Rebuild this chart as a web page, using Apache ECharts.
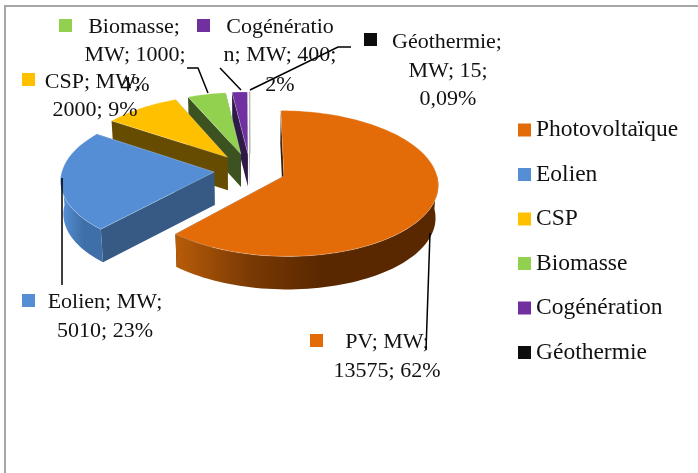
<!DOCTYPE html>
<html>
<head>
<meta charset="utf-8">
<style>html,body{margin:0;padding:0;background:#fff}#chart{width:698px;height:473px}</style>
<script src="https://cdn.jsdelivr.net/npm/echarts@6/dist/echarts.min.js"></script>
</head>
<body>
<div id="chart"></div>
<script>
const categories = ["Photovoltaïque", "Eolien", "CSP", "Biomasse", "Cogénération", "Géothermie"];
const values = [13575, 5010, 2000, 1000, 400, 15];
const labelLines = [
  ["PV; MW;", "13575; 62%"],
  ["Eolien; MW;", "5010; 23%"],
  ["CSP; MW;", "2000; 9%"],
  ["Biomasse;", "MW; 1000;", "4%"],
  ["Cogénératio", "n; MW; 400;", "2%"],
  ["Géothermie;", "MW; 15;", "0,09%"],
];
const colors = ["#E36C09", "#558ED5", "#FFC000", "#92D050", "#7030A0", "#0D0D0D"];
const cutColors = ["#3a1c02", "#375a85", "#664c00", "#3c5321", "#2e1a47", "#050505"];
const wallStops = [
  ["#b85c08", "#7a3a04", "#5a2800"],
  ["#5a93da", "#4a7fbd", "#3f6fa8"],
  ["#664c00", "#664c00", "#664c00"],
  ["#3c5321", "#3c5321", "#3c5321"],
  ["#2e1a47", "#2e1a47", "#2e1a47"],
  ["#050505", "#050505", "#050505"],
];

// fausse 3D : camembert eclate projete avec perspective
const cx = 250, cy = 170, R = 152, explode = 36, squash = 0.467, persp = 0.1, depth = 33, shrink = 0.985;
const total = values.reduce((a, b) => a + b, 0);
const rad = (d) => (d * Math.PI) / 180;

function project(wx, wy, low) {
  const p = 1 / (1 + (persp * wy) / R);
  let x = cx + wx * p;
  let y = cy - squash * wy * p;
  if (low) {
    x = cx + (x - cx) * shrink;
    y += depth;
  }
  return [x, y];
}

function slicePoint(mid, angle, r, low) {
  const wx = explode * Math.sin(rad(mid)) + r * Math.sin(rad(angle));
  const wy = explode * Math.cos(rad(mid)) + r * Math.cos(rad(angle));
  return project(wx, wy, low);
}

function arc(mid, from, to, low) {
  const pts = [];
  const n = Math.max(2, Math.ceil(Math.abs(to - from) / 2));
  for (let i = 0; i <= n; i++) {
    pts.push(slicePoint(mid, from + ((to - from) * i) / n, R, low));
  }
  return pts;
}

function renderSlice(index) {
  return function (params, api) {
    const before = values.slice(0, index).reduce((a, b) => a + b, 0);
    const a0 = (before / total) * 360;
    const a1 = a0 + (api.value(0) / total) * 360;
    const mid = (a0 + a1) / 2;
    const apex = slicePoint(mid, 0, 0, false);
    const apexLow = slicePoint(mid, 0, 0, true);
    const children = [];

    [a0, a1].forEach((a) => {
      children.push({
        type: "polygon",
        shape: { points: [apex, slicePoint(mid, a, R, false), slicePoint(mid, a, R, true), apexLow] },
        style: { fill: cutColors[index] },
      });
    });

    const w0 = Math.max(a0, 90), w1 = Math.min(a1, 270);
    if (w1 > w0) {
      const stops = wallStops[index];
      children.push({
        type: "polygon",
        shape: { points: arc(mid, w0, w1, false).concat(arc(mid, w1, w0, true)) },
        style: {
          fill: {
            type: "linear", x: 1, y: 0, x2: 0, y2: 0,
            colorStops: [
              { offset: 0, color: stops[2] },
              { offset: 0.45, color: stops[2] },
              { offset: 0.72, color: stops[1] },
              { offset: 1, color: stops[0] },
            ],
          },
        },
      });
    }

    children.push({
      type: "polygon",
      shape: { points: [apex].concat(arc(mid, a0, a1, false)) },
      style: {
        fill: colors[index],
        stroke: index === 5 ? "rgba(190,190,190,0.9)" : "rgba(255,255,255,0.25)",
        lineWidth: 1,
      },
    });
    return { type: "group", children: children };
  };
}

// etiquettes : carre de couleur + lignes de texte centrees
const labelFont = '22px "Liberation Serif", serif';
const keyBoxes = [[310, 334], [22, 294], [22, 73], [59, 19], [197, 19], [364, 33]];
const linePos = [
  [[387, 342], [387, 371]],
  [[105, 302], [105, 331]],
  [[93, 82], [95, 110]],
  [[134, 27], [135, 55], [135, 85]],
  [[280, 27], [280, 55], [280, 85]],
  [[447, 42], [448, 71], [448, 99]],
];
const leaders = [
  [[430, 233], [426, 350]],
  [[62, 178], [62, 285]],
  [[187, 68], [198, 68], [208, 93]],
  [[220, 68], [241, 90]],
  [[250, 90], [338, 47], [351, 47]],
];

const graphics = [
  {
    type: "polyline",
    shape: { points: [[5, 473], [5, 6], [698, 6]] },
    style: { stroke: "#a6a6a6", lineWidth: 2, fill: null },
    z: 1,
  },
];
leaders.forEach((pts) => {
  graphics.push({
    type: "polyline",
    shape: { points: pts },
    style: { stroke: "#000", lineWidth: 1.5, fill: null },
    z: 20,
  });
});
labelLines.forEach((lines, i) => {
  graphics.push({
    type: "rect",
    shape: { x: keyBoxes[i][0], y: keyBoxes[i][1], width: 13, height: 13 },
    style: { fill: colors[i] },
    z: 21,
  });
  lines.forEach((line, j) => {
    graphics.push({
      type: "text",
      x: linePos[i][j][0],
      y: linePos[i][j][1],
      style: { text: line, font: labelFont, fill: "#111", align: "center", verticalAlign: "middle" },
      z: 21,
    });
  });
});

var myChart = echarts.init(document.getElementById("chart"), null, { renderer: "canvas" });
myChart.setOption({
  animation: false,
  backgroundColor: "#fff",
  legend: {
    orient: "vertical",
    left: 513,
    top: 113,
    icon: "rect",
    itemWidth: 13,
    itemHeight: 13,
    itemGap: 20.5,
    selectedMode: false,
    data: categories,
    textStyle: { fontFamily: "Liberation Serif", fontSize: 23.5, color: "#111", lineHeight: 23 },
  },
  graphic: graphics,
  // du fond vers l'avant pour que les tranches se recouvrent correctement
  series: categories
    .map((name, i) => ({
      type: "custom",
      name: name,
      coordinateSystem: "none",
      silent: true,
      clip: false,
      itemStyle: { color: colors[i] },
      data: [[values[i]]],
      renderItem: renderSlice(i),
      z: 10 - i,
    }))
    .reverse(),
});
</script>
</body>
</html>
